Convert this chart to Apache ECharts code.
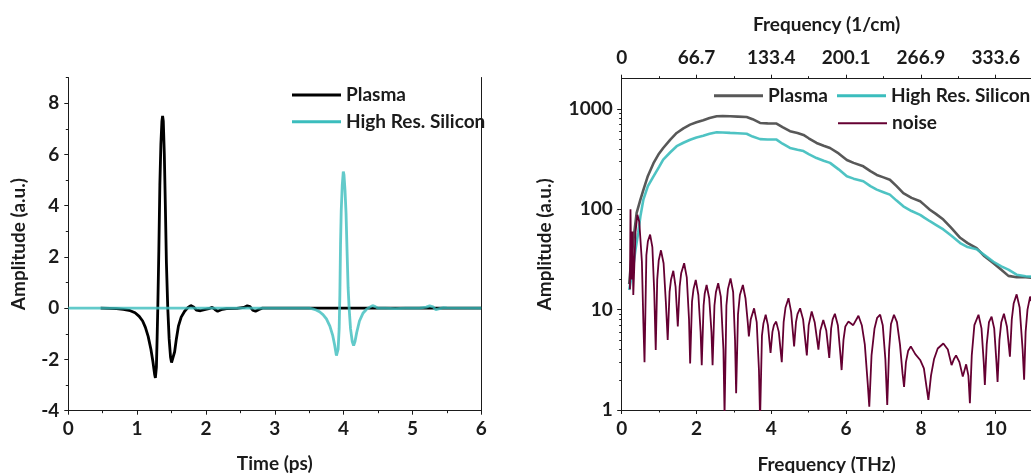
<!DOCTYPE html>
<html>
<head>
<meta charset="utf-8">
<script src="https://cdn.jsdelivr.net/npm/echarts@6/dist/echarts.min.js"></script>
<style>
  html, body { margin: 0; padding: 0; background: #ffffff; }
  #chart { width: 1031px; height: 473px; }
</style>
</head>
<body>
<div id="chart"></div>
<script>
// ---- Time-domain traces: [time (ps), amplitude (a.u.)] ----
const plasmaTrace = [
  [0.47, 0], [0.6, -0.01], [0.7, -0.02], [0.8, -0.05], [0.9, -0.1], [0.97, -0.18],
  [1.03, -0.32], [1.08, -0.5], [1.12, -0.75], [1.16, -1.1], [1.2, -1.6], [1.23, -2.1],
  [1.255, -2.6], [1.265, -2.72], [1.28, -2.3], [1.29, -1.2], [1.30, 0], [1.315, 2.2],
  [1.33, 4.8], [1.345, 6.4], [1.36, 7.3], [1.37, 7.5], [1.38, 7.3], [1.395, 6.0],
  [1.41, 4.0], [1.425, 1.8], [1.445, 0], [1.465, -1.2], [1.485, -1.9], [1.50, -2.12],
  [1.52, -2.05], [1.545, -1.7], [1.57, -1.2], [1.60, -0.7], [1.64, -0.35], [1.69, -0.12],
  [1.74, 0.03], [1.78, 0.1], [1.82, 0.05], [1.86, -0.08], [1.92, -0.1], [1.98, -0.06],
  [2.04, -0.02], [2.09, 0.03], [2.13, -0.05], [2.17, -0.12], [2.22, -0.06], [2.3, -0.02],
  [2.45, -0.01], [2.55, 0.03], [2.6, 0.09], [2.64, 0.06], [2.68, -0.08], [2.72, -0.12],
  [2.77, -0.05], [2.82, 0], [3.5, 0], [4.5, 0], [5.5, 0], [6, 0]
];
const siliconTrace = [
  [0, 0], [1, 0], [2, 0], [3, 0], [3.5, 0], [3.55, -0.03], [3.6, -0.07], [3.65, -0.14],
  [3.7, -0.25], [3.75, -0.42], [3.8, -0.7], [3.84, -1.05], [3.87, -1.45], [3.895, -1.85],
  [3.905, -1.92], [3.92, -1.6], [3.935, -0.8], [3.945, 0.5], [3.955, 2.5], [3.965, 3.8],
  [3.98, 4.8], [3.995, 5.33], [4.005, 5.2], [4.02, 4.6], [4.035, 3.7], [4.05, 2.2],
  [4.065, 0.8], [4.08, 0], [4.1, -0.8], [4.125, -1.3], [4.145, -1.46], [4.165, -1.3],
  [4.19, -0.95], [4.23, -0.5], [4.28, -0.2], [4.33, -0.05], [4.38, 0.04], [4.42, 0.1],
  [4.46, 0.06], [4.5, 0], [4.6, 0], [4.75, -0.02], [4.9, 0], [5.1, 0], [5.2, 0.04],
  [5.25, 0.09], [5.3, 0.05], [5.34, -0.06], [5.38, -0.03], [5.45, 0.02], [5.5, 0.01], [6, 0]
];

// ---- Spectra: [frequency (THz), amplitude (a.u.)] ----
const plasmaSpectrum = [
  [0.2, 18], [0.25, 30], [0.3, 45], [0.35, 65], [0.4, 92], [0.5, 125], [0.58, 156],
  [0.7, 215], [0.85, 288], [1.0, 360], [1.11, 408], [1.3, 495], [1.47, 576], [1.65, 640],
  [1.83, 697], [2.0, 735], [2.18, 771], [2.35, 810], [2.54, 846], [2.7, 850], [2.9, 845],
  [3.1, 838], [3.34, 830], [3.5, 790], [3.7, 725], [3.9, 718], [4.14, 715], [4.3, 660],
  [4.5, 600], [4.7, 575], [4.86, 550], [5.0, 510], [5.21, 458], [5.4, 430], [5.57, 408],
  [5.8, 360], [6.02, 310], [6.2, 290], [6.46, 268], [6.65, 240], [6.82, 220], [7.0, 208],
  [7.17, 197], [7.35, 170], [7.53, 145], [7.75, 130], [7.98, 120], [8.1, 110], [8.24, 99],
  [8.4, 90], [8.6, 79], [8.8, 66], [9.05, 52], [9.25, 46], [9.49, 41], [9.7, 34],
  [9.94, 29], [10.15, 25], [10.34, 21.7], [10.56, 21], [10.8, 21], [11.2, 20.5], [12, 20]
];
const siliconSpectrum = [
  [0.2, 15.7], [0.25, 20], [0.31, 27], [0.37, 40], [0.44, 58], [0.5, 85], [0.58, 125],
  [0.7, 170], [0.85, 213], [1.0, 265], [1.11, 313], [1.3, 370], [1.47, 425], [1.65, 460],
  [1.83, 493], [2.0, 520], [2.18, 540], [2.35, 565], [2.54, 585], [2.7, 583], [2.9, 577],
  [3.1, 572], [3.34, 565], [3.5, 530], [3.7, 500], [3.9, 495], [4.14, 495], [4.3, 450],
  [4.5, 408], [4.7, 392], [4.86, 380], [5.0, 355], [5.21, 324], [5.4, 305], [5.57, 290],
  [5.8, 250], [6.02, 213], [6.2, 202], [6.46, 190], [6.65, 170], [6.82, 157], [7.0, 148],
  [7.17, 140], [7.35, 122], [7.53, 107], [7.75, 96], [7.98, 88], [8.1, 82], [8.24, 76],
  [8.4, 70], [8.6, 63], [8.8, 55], [9.05, 46], [9.25, 42], [9.49, 40], [9.7, 35],
  [9.94, 30], [10.15, 27], [10.34, 25], [10.56, 22.3], [10.8, 21.5], [11.2, 21], [12, 20.5]
];
const noiseSpectrum = [
  [0.22, 16], [0.235, 100], [0.26, 20], [0.29, 60], [0.31, 14], [0.37, 60], [0.42, 88],
  [0.47, 75], [0.54, 30], [0.58, 7.3], [0.61, 3.0], [0.66, 35], [0.7, 48], [0.76, 56],
  [0.82, 42], [0.87, 15], [0.91, 3.97], [0.95, 20], [0.99, 31], [1.05, 39], [1.12, 29],
  [1.18, 12], [1.23, 5], [1.28, 15], [1.32, 20], [1.38, 24.4], [1.44, 17], [1.50, 6.8],
  [1.55, 17], [1.59, 23], [1.67, 29], [1.74, 21], [1.8, 8], [1.83, 2.9], [1.88, 12],
  [1.92, 16], [1.98, 19.8], [2.05, 14], [2.11, 6], [2.14, 2.8], [2.19, 11], [2.22, 14.5],
  [2.27, 17.6], [2.34, 13], [2.4, 6], [2.43, 2.8], [2.48, 11], [2.52, 15], [2.58, 18.3],
  [2.65, 13.5], [2.72, 4], [2.75, 0.9], [2.8, 11], [2.84, 16], [2.91, 20.5], [2.98, 15],
  [3.03, 5], [3.06, 1.47], [3.11, 9], [3.16, 14], [3.24, 17.6], [3.31, 13], [3.37, 7.5],
  [3.40, 5.4], [3.45, 8], [3.54, 10.3], [3.61, 7.5], [3.67, 2.5], [3.70, 0.8], [3.75, 5.5],
  [3.79, 7.3], [3.85, 8.9], [3.91, 7], [3.98, 3.7], [4.03, 6], [4.07, 7], [4.13, 7.6],
  [4.2, 6], [4.28, 3.0], [4.33, 7.5], [4.38, 10.5], [4.46, 13.0], [4.53, 9.5], [4.61, 4.3],
  [4.66, 7.5], [4.7, 9], [4.77, 10.3], [4.85, 8], [4.95, 3.5], [5.0, 7], [5.08, 9.6],
  [5.16, 7.5], [5.26, 4.0], [5.31, 6.2], [5.39, 7.9], [5.47, 6.2], [5.55, 3.3], [5.6, 6.5],
  [5.64, 8], [5.70, 9.1], [5.78, 7], [5.85, 3.5], [5.88, 2.5], [5.93, 5], [5.98, 6.8],
  [6.06, 7.6], [6.19, 7.0], [6.33, 8.7], [6.42, 7], [6.5, 4.5], [6.58, 1.8], [6.62, 1.08],
  [6.68, 3.5], [6.76, 6.5], [6.83, 8.3], [6.91, 8.9], [6.98, 7], [7.05, 3.2], [7.10, 1.12],
  [7.15, 4], [7.2, 7.2], [7.28, 8.9], [7.36, 7.5], [7.44, 4.5], [7.51, 2.3], [7.55, 1.7],
  [7.6, 3], [7.66, 3.9], [7.73, 4.3], [7.85, 3.6], [7.98, 3.15], [8.08, 2.6], [8.15, 1.7],
  [8.20, 1.26], [8.27, 2.2], [8.35, 3.2], [8.45, 4.1], [8.6, 4.6], [8.72, 4.0], [8.82, 2.8],
  [8.88, 3.2], [8.94, 3.5], [9.03, 3.0], [9.12, 2.15], [9.21, 2.85], [9.27, 2.2], [9.31, 1.17],
  [9.36, 3.5], [9.43, 7], [9.54, 8.9], [9.62, 6.5], [9.68, 3], [9.71, 1.78], [9.76, 4.5],
  [9.82, 7.5], [9.89, 8.5], [9.96, 6.5], [10.02, 3], [10.05, 1.9], [10.1, 5], [10.15, 7.5],
  [10.22, 9.1], [10.3, 6.8], [10.38, 3.4], [10.43, 8], [10.48, 11.5], [10.56, 14.2],
  [10.64, 10.5], [10.72, 4], [10.76, 2.0], [10.8, 6], [10.85, 10], [10.92, 13.5], [11.0, 11],
  [11.1, 5], [11.15, 2.5], [11.25, 8], [11.4, 12]
];

// ---- Ticks ----
const amplitudeTicks = [-4, -2, 0, 2, 4, 6, 8];
const amplitudeMinorTicks = [-3, -1, 1, 3, 5, 7, 9];
const logMajorTicks = [1, 10, 100, 1000];
const logMinorTicks = [2, 3, 4, 5, 6, 7, 8, 9, 20, 30, 40, 50, 60, 70, 80, 90,
  200, 300, 400, 500, 600, 700, 800, 900];
const wavenumberLabels = ['0', '66.7', '133.4', '200.1', '266.9', '333.6', '400.3'];

const INK = '#1b1b1b';
const PLASMA_TIME = '#000000';
const PLASMA_SPEC = '#585858';
const SILICON = '#3bbdbd';
const NOISE = '#650032';
const FONT = 'Lato';

const textBase = { fontFamily: FONT, fontWeight: 'bold', fontSize: 19, color: INK };
const axisLine = { show: true, onZero: false, lineStyle: { color: INK, width: 1 } };

function legendAt(left, top, name, color, thickness) {
  return {
    left: left, top: top, padding: 0, orient: 'horizontal',
    icon: 'rect', itemWidth: 49, itemHeight: thickness,
    selectedMode: false,
    textStyle: Object.assign({}, textBase, { lineHeight: 20 }),
    data: [{ name: name, itemStyle: { color: color, borderWidth: 0 } }]
  };
}

const chart = echarts.init(document.getElementById('chart'), null, { renderer: 'canvas' });

chart.setOption({
  animation: false,
  backgroundColor: '#ffffff',
  textStyle: { fontFamily: FONT },
  grid: [
    { left: 68.3, top: 77.5, width: 413, height: 333.2, outerBoundsMode: 'none', containLabel: false },
    { left: 621.7, top: 78.7, width: 448.8, height: 331.3, outerBoundsMode: 'none', containLabel: false }
  ],
  legend: [
    legendAt(292, 85, 'Plasma', PLASMA_TIME, 3),
    legendAt(292, 111.7, 'High Res. Silicon', SILICON, 3),
    legendAt(714, 85.7, 'Plasma', PLASMA_SPEC, 3),
    legendAt(837, 85.7, 'High Res. Silicon', SILICON, 3),
    legendAt(838, 113.3, 'noise', NOISE, 2)
  ],
  xAxis: [
    {
      gridIndex: 0, type: 'value', min: 0, max: 6, interval: 1,
      axisLine: axisLine,
      axisTick: { show: true, length: 4, lineStyle: { color: INK } },
      minorTick: { show: true, splitNumber: 2, length: 2.5, lineStyle: { color: INK } },
      splitLine: { show: false },
      axisLabel: Object.assign({ margin: 9 }, textBase),
      name: 'Time (ps)', nameLocation: 'middle', nameGap: 44,
      nameTextStyle: textBase
    },
    {
      gridIndex: 1, type: 'value', min: 0, max: 12, interval: 2, position: 'bottom',
      axisLine: axisLine,
      axisTick: { show: true, length: 4, lineStyle: { color: INK } },
      minorTick: { show: true, splitNumber: 2, length: 2.5, lineStyle: { color: INK } },
      splitLine: { show: false },
      axisLabel: Object.assign({ margin: 9 }, textBase),
      name: 'Frequency (THz)', nameLocation: 'middle', nameGap: 45,
      nameTextStyle: Object.assign({}, textBase, { padding: [0, 39, 0, 0] })
    },
    {
      gridIndex: 1, type: 'value', min: 0, max: 12, interval: 2, position: 'top',
      axisLine: axisLine,
      axisTick: { show: true, length: 4, lineStyle: { color: INK } },
      minorTick: { show: true, splitNumber: 2, length: 2.5, lineStyle: { color: INK } },
      splitLine: { show: false },
      axisLabel: Object.assign({
        margin: 11,
        formatter: function (v) { return wavenumberLabels[Math.round(v / 2)]; }
      }, textBase),
      name: 'Frequency (1/cm)', nameLocation: 'middle', nameGap: 44,
      nameTextStyle: Object.assign({}, textBase, { padding: [0, 39, 0, 0] })
    }
  ],
  yAxis: [
    {
      gridIndex: 0, type: 'value', min: -4, max: 9, position: 'left',
      axisLine: axisLine,
      axisTick: { show: true, length: 4, customValues: amplitudeTicks, lineStyle: { color: INK } },
      splitLine: { show: false },
      axisLabel: Object.assign({ margin: 9, customValues: amplitudeTicks }, textBase),
      name: 'Amplitude (a.u.)', nameLocation: 'middle', nameGap: 40,
      nameTextStyle: textBase
    },
    {
      gridIndex: 0, type: 'value', min: -4, max: 9, position: 'left',
      axisLine: { show: false, onZero: false },
      axisTick: { show: true, length: 2.5, customValues: amplitudeMinorTicks, lineStyle: { color: INK } },
      axisLabel: { show: false }, splitLine: { show: false }
    },
    {
      gridIndex: 0, type: 'value', min: -4, max: 9, position: 'right',
      axisLine: axisLine,
      axisTick: { show: false }, axisLabel: { show: false }, splitLine: { show: false }
    },
    {
      gridIndex: 1, type: 'log', logBase: 10, min: 1, max: 2000, position: 'left',
      axisLine: axisLine,
      axisTick: { show: true, length: 4.5, customValues: logMajorTicks, lineStyle: { color: INK } },
      splitLine: { show: false },
      axisLabel: Object.assign({
        margin: 9, customValues: logMajorTicks,
        formatter: function (v) { return String(Math.round(v)); }
      }, textBase),
      name: 'Amplitude (a.u.)', nameLocation: 'middle', nameGap: 67,
      nameTextStyle: textBase
    },
    {
      gridIndex: 1, type: 'log', logBase: 10, min: 1, max: 2000, position: 'left',
      axisLine: { show: false, onZero: false },
      axisTick: { show: true, length: 2.5, customValues: logMinorTicks, lineStyle: { color: INK } },
      axisLabel: { show: false }, splitLine: { show: false }
    }
  ],
  series: [
    {
      name: 'Plasma', type: 'line', xAxisIndex: 0, yAxisIndex: 0,
      symbol: 'none', data: plasmaTrace,
      lineStyle: { color: PLASMA_TIME, width: 2.8 }, itemStyle: { color: PLASMA_TIME }
    },
    {
      name: 'High Res. Silicon', type: 'line', xAxisIndex: 0, yAxisIndex: 0,
      symbol: 'none', data: siliconTrace,
      lineStyle: { color: SILICON, width: 2.8, opacity: 0.8 }, itemStyle: { color: SILICON }
    },
    {
      name: 'Plasma', type: 'line', xAxisIndex: 1, yAxisIndex: 3,
      symbol: 'none', data: plasmaSpectrum,
      lineStyle: { color: PLASMA_SPEC, width: 2.6 }, itemStyle: { color: PLASMA_SPEC }
    },
    {
      name: 'High Res. Silicon', type: 'line', xAxisIndex: 1, yAxisIndex: 3,
      symbol: 'none', data: siliconSpectrum,
      lineStyle: { color: SILICON, width: 2.6, opacity: 0.9 }, itemStyle: { color: SILICON }
    },
    {
      name: 'noise', type: 'line', xAxisIndex: 1, yAxisIndex: 3,
      symbol: 'none', data: noiseSpectrum,
      lineStyle: { color: NOISE, width: 1.8 }, itemStyle: { color: NOISE }
    }
  ]
});
</script>
</body>
</html>
